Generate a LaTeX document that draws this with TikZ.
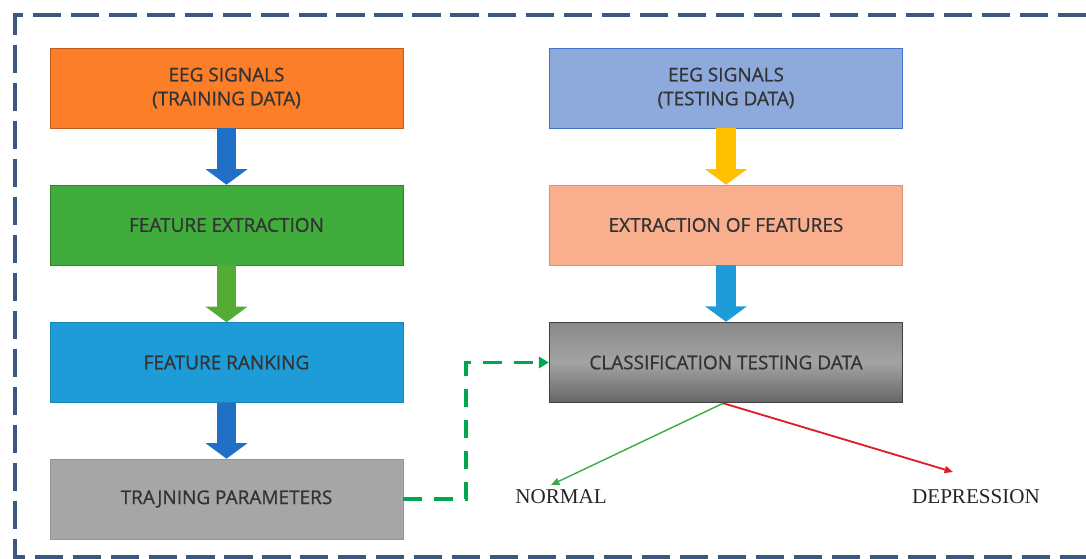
\documentclass[tikz,border=0pt]{standalone}
\usepackage{fontspec}
\setmainfont{Liberation Serif}
\newfontfamily\boxfont[FakeBold=0.9]{Open Sans}
\usetikzlibrary{arrows.meta}

\definecolor{trainorange}{RGB}{252,126,40}
\definecolor{extgreen}{RGB}{64,172,60}
\definecolor{rankblue}{RGB}{30,156,216}
\definecolor{arrowblue}{RGB}{32,112,200}
\definecolor{arrowgreen}{RGB}{84,172,52}
\definecolor{testblue}{RGB}{142,170,220}
\definecolor{testborder}{RGB}{68,114,196}
\definecolor{arrowyellow}{RGB}{255,192,0}
\definecolor{salmon}{RGB}{249,174,142}
\definecolor{paramgray}{RGB}{166,166,166}
\definecolor{framecol}{RGB}{58,88,128}
\definecolor{feedgreen}{RGB}{0,166,80}
\definecolor{normgreen}{RGB}{60,170,70}
\definecolor{deprred}{RGB}{220,30,40}

\tikzset{
  stage/.style={minimum width=8.825cm, minimum height=2cm, inner sep=0pt, align=center,
    font=\boxfont\fontsize{13.5}{17}\selectfont, text=black!80},
  fatarrow/.style={line width=14.2pt, -{Triangle[width=29.2pt,length=11pt]}},
  feedback/.style={draw=feedgreen, line width=2.8pt, dash pattern=on 13pt off 9pt,
    -{Triangle[width=8pt,length=7pt]}},
  outcome/.style={font=\fontsize{15}{18}\selectfont, text=black!85},
}

\begin{document}
\begin{tikzpicture}[x=0.025cm,y=-0.025cm]
	%%%%% START %%%%%
	\useasboundingbox (0,0) rectangle (1086,559);
	
	\draw[framecol, line width=2.6pt, dash pattern=on 20pt off 7pt] (1086,15) -- (15,15) -- (15,557) -- (1086,557);
	
	% training side
	\node[stage, fill=trainorange, draw=trainorange!75!black] (trainsig) at (226.5,88) {EEG SIGNALS\\(TRAINING DATA)};
	\node[stage, fill=extgreen, draw=extgreen!75!black] (featext) at (226.5,225) {FEATURE EXTRACTION};
	\node[stage, fill=rankblue, draw=rankblue!85!black] (featrank) at (226.5,362.5) {FEATURE RANKING};
	\node[stage, fill=paramgray, draw=paramgray!90!black] (trainp) at (226.5,499) {TRAJNING PARAMETERS};
	
	\draw[fatarrow, arrowblue] (trainsig) -- (featext);
	\draw[fatarrow, arrowgreen] (featext) -- (featrank);
	\draw[fatarrow, arrowblue] (featrank) -- (trainp);
	
	% testing side
	\node[stage, fill=testblue, draw=testborder] (testsig) at (726,88) {EEG SIGNALS\\(TESTING DATA)};
	\node[stage, fill=salmon, draw=salmon!85!black] (extfeat) at (726,225) {EXTRACTION OF FEATURES};
	\node[stage, top color=black!46, bottom color=black!60, middle color=black!36, draw=black!75, line width=1pt] (classif) at (726,362.5) {CLASSIFICATION TESTING DATA};
	
	\draw[fatarrow, arrowyellow] (testsig) -- (extfeat);
	\draw[fatarrow, rankblue] (extfeat) -- (classif);
	
	\draw[feedback] (trainp.east) -- ++(63,0) |- (classif.west);
	
	% results
	\coordinate (nrmtip) at (551,485);
	\coordinate (deptip) at (953,472);
	\draw[normgreen, line width=1pt, -{Triangle[width=5pt,length=6pt]}] ([xshift=-2pt]classif.south) -- (nrmtip);
	\draw[deprred, line width=1.3pt, -{Triangle[width=5pt,length=6pt]}] ([xshift=-2pt]classif.south) -- (deptip);
	
	\node[outcome] (normal) at (561,497) {NORMAL};
	\node[outcome] (depress) at (976,497) {DEPRESSION};
	%%%%% END %%%%%
\end{tikzpicture}
\end{document}
